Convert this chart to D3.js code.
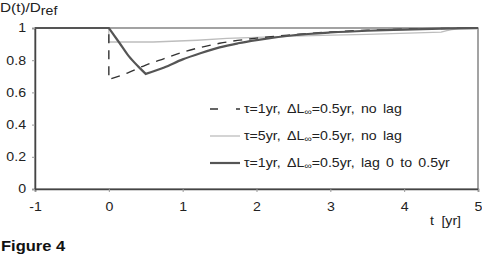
<!DOCTYPE html>
<html>
<head>
<meta charset="utf-8">
<script src="https://cdn.jsdelivr.net/npm/d3@7"></script>
<style>
  body { margin: 0; background: #fff; }
  svg { display: block; font-family: "Liberation Sans", Arial, sans-serif; }
</style>
</head>
<body>
<div id="chart"></div>
<script>

// values
const tNoLag = [-1, 0, 0, 0.25, 0.5, 0.75, 1, 1.25, 1.5, 2, 2.5, 3, 3.5, 4, 4.5, 5];
const dTau1 = [1, 1, 0.68, 0.72, 0.77, 0.81, 0.85, 0.88, 0.905, 0.937, 0.958, 0.975, 0.986, 0.993, 0.997, 1];

const tTau5 = [-1, 0, 0, 0.6, 1.2, 1.6, 2.5, 3.5, 4.5, 4.75, 5];
const dTau5 = [1, 1, 0.913, 0.913, 0.924, 0.935, 0.95, 0.96, 0.975, 0.994, 0.995];

const tLag = [-1, 0, 0.14, 0.27, 0.4, 0.5, 0.75, 1, 1.25, 1.5, 1.75, 2, 2.5, 3, 3.5, 4, 4.5, 5];
const dLag = [1, 1, 0.91, 0.825, 0.76, 0.715, 0.755, 0.805, 0.845, 0.88, 0.905, 0.925, 0.955, 0.972, 0.983, 0.99, 0.996, 1];

const xTicks = [-1, 0, 1, 2, 3, 4, 5];
const yTicks = [0, 0.2, 0.4, 0.6, 0.8, 1];

const legendLabels = [
  "τ=1yr, ΔL∞=0.5yr, no lag",
  "τ=5yr, ΔL∞=0.5yr, no lag",
  "τ=1yr, ΔL∞=0.5yr, lag 0 to 0.5yr"
];

const width = 482, height = 254;
const margin = {top: 28, right: 4, bottom: 65, left: 35};
const stretch = 1.18;  // the scanned figure is a bit wider than tall

const x = d3.scaleLinear()
  .domain([-1, 5])
  .range([margin.left, width - margin.right]);

const y = d3.scaleLinear()
  .domain([0, 1])
  .range([height - margin.bottom, margin.top]);

const svg = d3.select("#chart").append("svg")
  .attr("width", width)
  .attr("height", height);

function addText(px, py, size) {
  return svg.append("text")
    .attr("transform", "translate(" + px + "," + py + ") scale(" + stretch + ",1)")
    .attr("fill", "#222")
    .style("font-size", size + "px");
}

// frame
svg.append("rect")
  .attr("x", x(-1)).attr("y", y(1))
  .attr("width", x(5) - x(-1)).attr("height", y(0) - y(1))
  .attr("fill", "none")
  .attr("stroke", "#666")
  .attr("stroke-width", 1.2);

const xAxis = d3.axisBottom(x).tickValues(xTicks).tickSize(3).tickPadding(10)
  .tickFormat(d => String(d));
const yAxis = d3.axisLeft(y).tickValues(yTicks).tickSize(3).tickPadding(7)
  .tickFormat(d => d === 0 || d === 1 ? String(d) : d3.format(".1f")(d));

const gx = svg.append("g")
  .attr("transform", "translate(0," + y(0) + ")")
  .call(xAxis);
const gy = svg.append("g")
  .attr("transform", "translate(" + x(-1) + ",0)")
  .call(yAxis);

[gx, gy].forEach(g => {
  g.select(".domain").attr("stroke", "#444").attr("stroke-width", 1.5);
  g.selectAll(".tick line").attr("stroke", "#999");
  g.selectAll(".tick text").attr("fill", "#222").style("font-size", "12px")
    .style("font-family", "Liberation Sans, Arial, sans-serif");
});
gx.selectAll(".tick text").attr("transform", "scale(" + stretch + ",1)");
gy.selectAll(".tick text").attr("transform", "translate(-1,0) scale(" + stretch + ",1)")
  .attr("x", -8 / stretch);

const smooth = d3.line()
  .x(d => x(d[0]))
  .y(d => y(d[1]))
  .curve(d3.curveMonotoneX);

// break a series at vertical drops and at corners, smooth each piece, join
function pathFor(pts, corners) {
  const pieces = [];
  let cur = [pts[0]];
  for (let i = 1; i < pts.length; i++) {
    if (pts[i][0] === pts[i - 1][0]) {
      pieces.push(cur);
      cur = [pts[i]];
    } else {
      cur.push(pts[i]);
      if (corners.includes(pts[i][0])) {
        pieces.push(cur);
        cur = [pts[i]];
      }
    }
  }
  pieces.push(cur);
  return pieces.filter(p => p.length > 1 || pieces.length === 1)
    .map((p, i) => {
      const s = p.length > 1 ? smooth(p) : "M" + x(p[0][0]) + "," + y(p[0][1]);
      return i === 0 ? s : "L" + s.slice(1);
    }).join("");
}

const series = [
  {t: tTau5, d: dTau5, stroke: "#bdbdbd", width: 1.3, dash: null, corners: [0.6, 1.2, 1.6, 4.5]},
  {t: tNoLag, d: dTau1, stroke: "#333", width: 1.4, dash: "9,7", corners: []},
  {t: tLag, d: dLag, stroke: "#555", width: 2.2, dash: null, corners: [0, 0.5]}
];

series.forEach(s => {
  svg.append("path")
    .attr("d", pathFor(d3.zip(s.t, s.d), s.corners))
    .attr("fill", "none")
    .attr("stroke", s.stroke)
    .attr("stroke-width", s.width)
    .attr("stroke-dasharray", s.dash);
});

// legend
const legendOrder = [series[1], series[0], series[2]];
legendLabels.forEach((lab, i) => {
  const s = legendOrder[i];
  const ly = 109 + i * 27;
  svg.append("line")
    .attr("x1", 210).attr("x2", 240)
    .attr("y1", ly).attr("y2", ly)
    .attr("stroke", s.stroke)
    .attr("stroke-width", s.width)
    .attr("stroke-dasharray", s.dash ? "8,18,4" : null);
  const parts = lab.split("∞");
  const txt = addText(244, ly + 4, 12).style("word-spacing", "2px");
  txt.append("tspan").text(parts[0]);
  txt.append("tspan").attr("dy", 2).style("font-size", "9px").text("∞");
  txt.append("tspan").attr("dy", -2).text(parts[1]);
});

// axis titles
const yt = addText(0, 11.5, 13);
yt.append("tspan").text("D(t)/D");
yt.append("tspan").attr("dy", 3).style("font-size", "12px").text("ref");

addText(430, 225, 12).style("word-spacing", "3px").text("t [yr]");

addText(1, 251, 14).attr("fill", "#111").style("font-weight", "bold")
  .text("Figure 4");

</script>
</body>
</html>
